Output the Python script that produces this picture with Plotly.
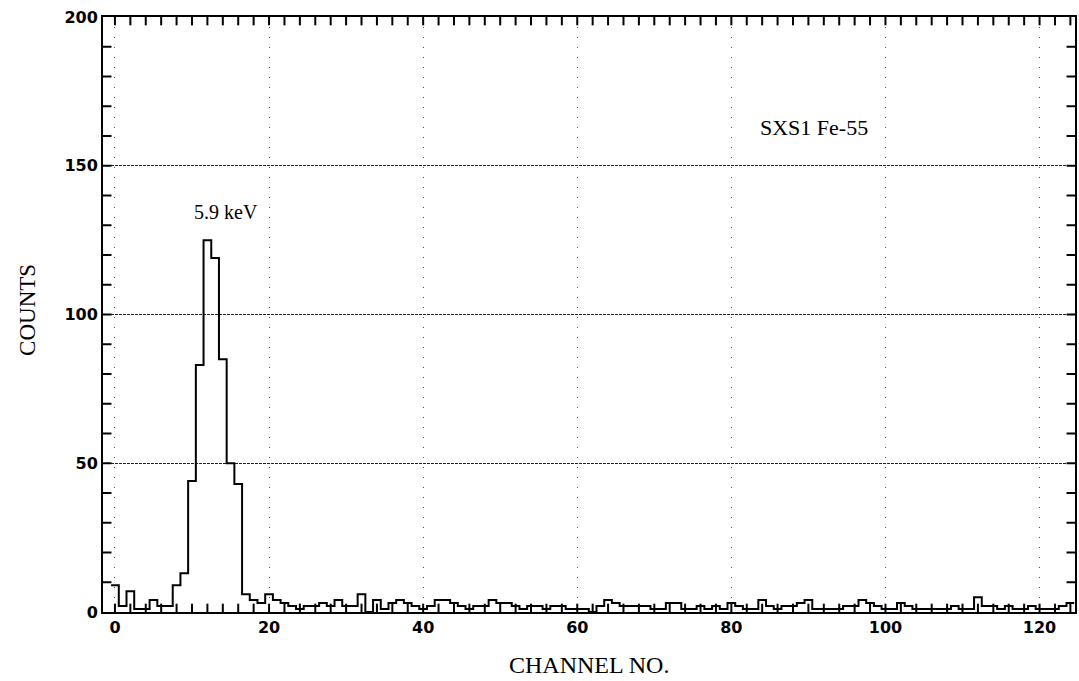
import plotly.graph_objects as go

# Fe-55 pulse-height spectrum, one count per channel bin
channels = list(range(0, 125))
counts = [
    9, 2, 7, 1, 1, 4, 2, 2, 9, 13,
    44, 83, 125, 119, 85, 50, 43, 6, 4, 3,
    6, 4, 3, 2, 1, 2, 2, 3, 2, 4,
    2, 2, 6, 0, 4, 1, 3, 4, 3, 2,
    1, 2, 4, 4, 3, 2, 1, 2, 2, 4,
    3, 3, 2, 1, 2, 2, 1, 2, 2, 1,
    1, 1, 0, 2, 4, 3, 2, 2, 2, 2,
    1, 1, 3, 3, 1, 1, 2, 1, 2, 1,
    3, 2, 1, 1, 4, 2, 1, 2, 2, 3,
    4, 1, 1, 1, 1, 2, 2, 4, 3, 2,
    1, 1, 3, 2, 1, 1, 1, 1, 1, 2,
    1, 1, 5, 2, 2, 1, 2, 1, 1, 2,
    1, 1, 1, 2, 3,
]

x_range = [-1.55, 124.6]
y_range = [0, 200]
x_label_ticks = [0, 20, 40, 60, 80, 100, 120]
y_label_ticks = [0, 50, 100, 150, 200]
x_minor_ticks = list(range(0, 125, 2))
y_minor_ticks = list(range(10, 200, 10))

peak_label = "5.9 keV"
source_label = "SXS1 Fe-55"

# step outline: each bin is centred on its channel number
step_x = [c - 0.5 for c in channels] + [channels[-1] + 0.5]
step_y = counts + [counts[-1]]

fig = go.Figure()
fig.add_trace(go.Scatter(
    x=step_x, y=step_y, mode="lines", line_shape="hv",
    line=dict(color="black", width=2), hoverinfo="skip", showlegend=False,
))

# small inward tick marks on all four sides, drawn as short segments
x_tick_len = 2.8    # in count units (about 8 px)
y_tick_len = 1.1    # in channel units (about 8 px)
tx, ty = [], []
for xv in x_minor_ticks:
    tx += [xv, xv, None, xv, xv, None]
    ty += [y_range[0], y_range[0] + x_tick_len, None,
           y_range[1], y_range[1] - x_tick_len, None]
for yv in y_minor_ticks:
    tx += [x_range[0], x_range[0] + y_tick_len, None,
           x_range[1], x_range[1] - y_tick_len, None]
    ty += [yv, yv, None, yv, yv, None]
fig.add_trace(go.Scatter(
    x=tx, y=ty, mode="lines", line=dict(color="black", width=2),
    hoverinfo="skip", showlegend=False, cliponaxis=False,
))

tick_font = dict(family="DejaVu Sans", size=16, color="black", weight="bold")
serif = "Liberation Serif"

fig.update_layout(
    xaxis=dict(
        range=x_range, tickmode="array", tickvals=x_label_ticks,
        showgrid=True, gridcolor="#555", gridwidth=1, griddash="1px,9px",
        ticks="", showline=True, linecolor="black", linewidth=2, mirror=True,
        zeroline=False, tickfont=tick_font,
    ),
    yaxis=dict(
        range=y_range, tickmode="array", tickvals=y_label_ticks,
        showgrid=True, gridcolor="#222", gridwidth=1, griddash="3px,1px",
        ticks="", showline=True, linecolor="black", linewidth=2, mirror=True,
        zeroline=False, tickfont=tick_font,
    ),
)

fig.add_annotation(
    text="COUNTS", xref="paper", yref="paper", x=-0.077, y=0.508,
    xanchor="center", yanchor="middle",
    textangle=-90, showarrow=False, font=dict(family=serif, size=23, color="black"),
)
fig.add_annotation(
    text="CHANNEL NO.", xref="paper", yref="paper", x=0.5, y=-0.089,
    xanchor="center", yanchor="middle",
    showarrow=False, font=dict(family=serif, size=24, color="black"),
)
fig.add_annotation(
    text=peak_label, x=14.4, y=134.5, showarrow=False,
    font=dict(family=serif, size=20, color="black"),
)
fig.add_annotation(
    text=source_label, x=90.7, y=162.7, showarrow=False,
    font=dict(family=serif, size=22, color="black"),
)

fig.update_layout(
    width=1079, height=681,
    margin=dict(l=103, r=2, t=17, b=69),
    paper_bgcolor="white", plot_bgcolor="white",
)

fig.write_html("out.html")
